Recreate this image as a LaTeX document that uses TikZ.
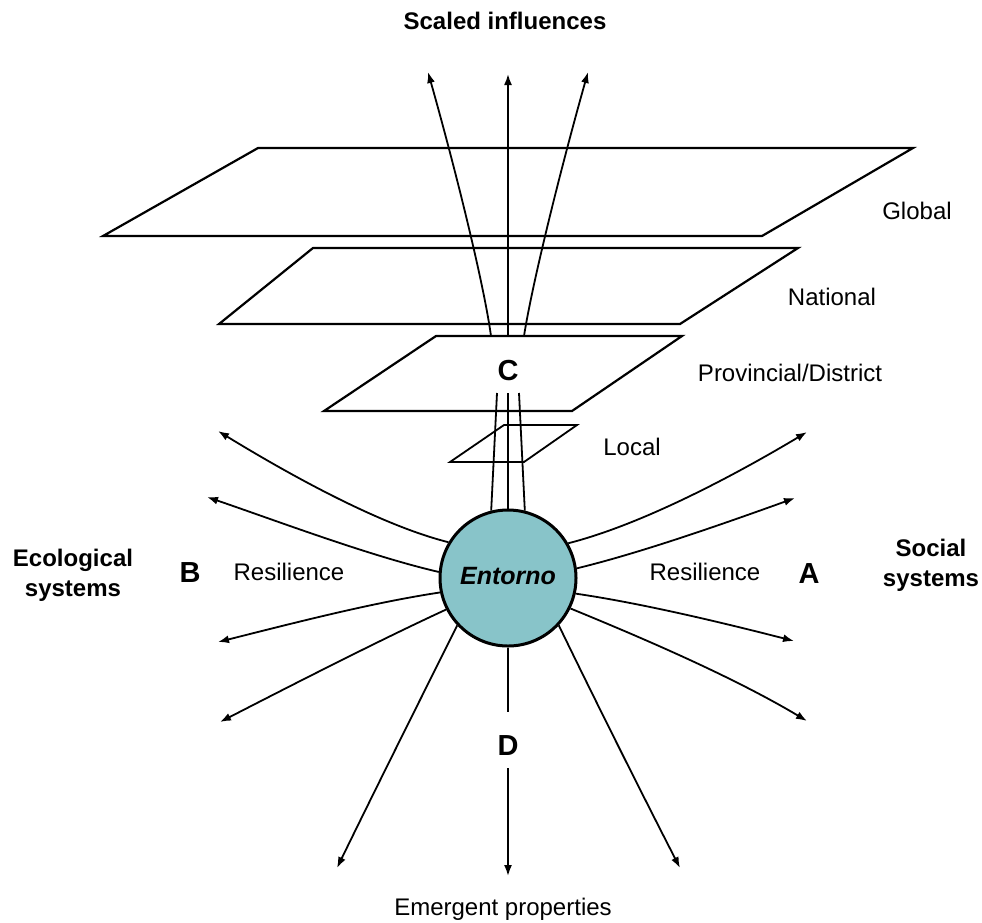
\documentclass[tikz,border=0pt]{standalone}
\usepackage{fontspec}
\setmainfont{Liberation Sans}
\usetikzlibrary{arrows.meta}
\definecolor{entornofill}{RGB}{136,196,201}
\tikzset{
  plane/.style={draw=black, line width=2.2pt, line join=miter},
  flow/.style={draw=black, line width=1.8pt},
  flowarrow/.style={flow, -{Latex[length=11pt,width=8pt]}},
  lbl/.style={anchor=base, inner sep=0pt, font=\fontsize{24}{28}\selectfont},
  blbl/.style={lbl, font=\fontsize{24}{28}\selectfont\bfseries},
  letter/.style={lbl, font=\fontsize{29}{30}\selectfont\bfseries},
}
\begin{document}
\begin{tikzpicture}[x=1pt,y=-1pt]
\useasboundingbox (0,0) rectangle (982,922);

% planes
\draw[plane] (258,148) -- (913,148) -- (762,236) -- (103,236) -- cycle;
\draw[plane] (313,248) -- (798,248) -- (680,324) -- (219,324) -- cycle;
\draw[plane] (436,336) -- (682,336) -- (572,411) -- (324,411) -- cycle;
\draw[plane, line width=1.8pt] (504,425) -- (577,425) -- (524,462) -- (450,462) -- cycle;

% central node
\node[circle, draw=black, line width=3pt, fill=entornofill, minimum size=136pt, inner sep=0pt] (E) at (508,578) {};
\node[anchor=base, inner sep=0pt, font=\fontsize{25}{28}\selectfont\bfseries\itshape] (Etxt) at (508,584) {Entorno};

% labels
\node[blbl] (title) at (505,29) {Scaled influences};
\node[lbl] (glob) at (917,219) {Global};
\node[lbl] (nat) at (832,305) {National};
\node[lbl] (prov) at (790,381) {Provincial/District};
\node[lbl] (loc) at (632,455) {Local};
\node[lbl] (resL) at (289,580) {Resilience};
\node[lbl] (resR) at (705,580) {Resilience};
\node[letter] (B) at (190,582) {B};
\node[letter] (A) at (809,583) {A};
\node[letter] (C) at (508,380) {C};
\node[letter] (D) at (508,755) {D};
\node[lbl] (emer) at (503,915) {Emergent properties};
\node[blbl] (eco1) at (73,566) {Ecological};
\node[blbl] (eco2) at (73,596) {systems};
\node[blbl] (soc1) at (931,556) {Social};
\node[blbl] (soc2) at (931,586) {systems};

% coordinates of the upward bundle
\coordinate (cb1) at (497,393);
\coordinate (cb2) at (508,393);
\coordinate (cb3) at (519,393);
\coordinate (ct1) at (491,336);
\coordinate (ct2) at (508,336);
\coordinate (ct3) at (524,336);
\coordinate (up1) at (428,72);
\coordinate (up2) at (508,74);
\coordinate (up3) at (588,72);

\draw[flow] (E.104) -- (cb1);
\draw[flow] (E.90) -- (cb2);
\draw[flow] (E.76) -- (cb3);
\draw[flowarrow] (ct1) .. controls (484,285) and (457,175) .. (up1);
\draw[flowarrow] (ct2) -- (up2);
\draw[flowarrow] (ct3) .. controls (532,285) and (559,175) .. (up3);

% left arrows
\coordinate (l1) at (218,431);
\coordinate (l2) at (207,497);
\coordinate (l3) at (218,642);
\coordinate (l4) at (220,722);
\coordinate (l5) at (337,868);
\draw[flowarrow] (E.149.5) .. controls (380,525) and (290,475) .. (l1);
\draw[flowarrow] (E.175) .. controls (370,556) and (280,522) .. (l2);
\draw[flowarrow] (E.192) .. controls (370,603) and (290,624) .. (l3);
\draw[flowarrow] (E.207.6) .. controls (380,640) and (290,686) .. (l4);
\draw[flowarrow] (E.223.8) .. controls (420,700) and (375,790) .. (l5);

% right arrows
\coordinate (r1) at (807,432);
\coordinate (r2) at (795,498);
\coordinate (r3) at (794,641);
\coordinate (r4) at (807,721);
\coordinate (r5) at (680,868);
\draw[flowarrow] (E.30.7) .. controls (640,525) and (730,478) .. (r1);
\draw[flowarrow] (E.8) .. controls (640,553) and (720,525) .. (r2);
\draw[flowarrow] (E.-13) .. controls (640,603) and (720,622) .. (r3);
\draw[flowarrow] (E.-26.6) .. controls (635,635) and (730,675) .. (r4);
\draw[flowarrow] (E.-43.8) .. controls (595,700) and (640,790) .. (r5);

% downward arrow through D
\coordinate (dtop) at (508,712);
\coordinate (dbot) at (508,768);
\coordinate (down) at (508,876);
\draw[flow] (E.270) -- (dtop);
\draw[flowarrow] (dbot) -- (down);
\end{tikzpicture}
\end{document}
